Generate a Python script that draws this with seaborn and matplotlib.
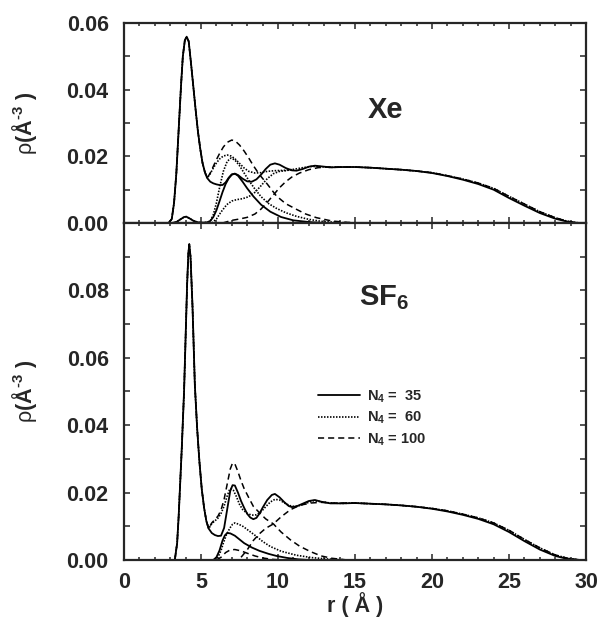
import matplotlib

matplotlib.use("Agg")
import matplotlib.pyplot as plt
import matplotlib.ticker as mticker
import numpy as np
import seaborn as sns
from matplotlib.lines import Line2D

# ---------------- Xe (top panel) ----------------
# first adsorbed layer, shared by all loadings
xe_peak_r = [2.9, 3.1, 3.25, 3.4, 3.55, 3.7, 3.82, 3.95, 4.07, 4.2, 4.35, 4.5,
             4.65, 4.8, 4.95, 5.1, 5.25, 5.4]
xe_peak_v = [0.0, 0.0012, 0.006, 0.015, 0.028, 0.041, 0.050, 0.0548, 0.0559,
             0.0545, 0.048, 0.041, 0.034, 0.0275, 0.0223, 0.018, 0.0153, 0.0135]

# total profiles beyond the first layer
xe_t35_r = [5.6, 5.8, 6.0, 6.2, 6.4, 6.6, 6.8, 7.0, 7.2, 7.4, 7.7, 8.0, 8.3, 8.6,
            8.9, 9.2, 9.5, 9.8, 10.1, 10.5, 10.9, 11.2, 11.6, 12.0, 12.4, 12.8,
            13.4, 14.2, 15.0, 16.0, 17.0, 18.0, 19.0, 20.0, 21.0, 22.0, 23.0,
            24.0, 25.0, 26.0, 27.0, 28.0, 28.8, 29.5]
xe_t35_v = [0.0124, 0.0119, 0.0116, 0.0114, 0.0114, 0.0122, 0.0136, 0.0146,
            0.0148, 0.0144, 0.0133, 0.0125, 0.0124, 0.0131, 0.0145, 0.0162,
            0.0175, 0.0179, 0.0175, 0.0165, 0.0158, 0.0157, 0.0162, 0.0169,
            0.0172, 0.0170, 0.0167, 0.0168, 0.0168, 0.0166, 0.0163, 0.0160,
            0.0156, 0.0150, 0.0141, 0.0130, 0.0117, 0.0100, 0.0075, 0.0052,
            0.0030, 0.0013, 0.0004, 0.0]

xe_t60_r = [5.6, 5.8, 6.0, 6.2, 6.45, 6.7, 6.95, 7.2, 7.5, 7.8, 8.1, 8.5, 8.9,
            9.3, 9.8, 10.4, 11.0, 11.6, 12.2, 12.8, 13.4, 14.2, 15.0, 16.0,
            17.0, 18.0, 19.0, 20.0, 21.0, 22.0, 23.0, 24.0, 25.0, 26.0, 27.0,
            28.0, 28.8, 29.6]
xe_t60_v = [0.0148, 0.0165, 0.0180, 0.0192, 0.0201, 0.0204, 0.0201, 0.0193,
            0.0179, 0.0165, 0.0155, 0.0150, 0.0151, 0.0155, 0.0157, 0.0158,
            0.0161, 0.0166, 0.0170, 0.0169, 0.0167, 0.0168, 0.0168, 0.0166,
            0.0163, 0.0160, 0.0156, 0.0151, 0.0142, 0.0132, 0.0120, 0.0104,
            0.0080, 0.0057, 0.0034, 0.0016, 0.0005, 0.0]

xe_t100_r = [5.6, 5.8, 6.0, 6.2, 6.45, 6.7, 7.0, 7.25, 7.5, 7.8, 8.1, 8.4, 8.8,
             9.3, 9.9, 10.5, 11.2, 11.8, 12.5, 13.5, 14.5, 15.5]
xe_t100_v = [0.0150, 0.0170, 0.0190, 0.0208, 0.0228, 0.0242, 0.0249, 0.0245,
             0.0234, 0.0216, 0.0195, 0.0172, 0.0145, 0.0117, 0.0081, 0.0058,
             0.0041, 0.0027, 0.0016, 0.0006, 0.0002, 0.0]

# layer components
xe_c35_r = [3.1, 3.4, 3.7, 3.9, 4.05, 4.25, 4.5, 4.8, 5.1, 5.4, 5.6, 5.8, 6.0,
            6.2, 6.4, 6.6, 6.8, 7.0, 7.2, 7.4, 7.7, 8.0, 8.4, 8.9, 9.5, 10.2,
            11.0, 12.0, 13.0]
xe_c35_v = [0.0, 0.0003, 0.0012, 0.0018, 0.0019, 0.0014, 0.0007, 0.0002,
            0.0001, 0.0002, 0.0006, 0.0018, 0.0038, 0.0065, 0.0093, 0.0117,
            0.0134, 0.0145, 0.0148, 0.0142, 0.0124, 0.0104, 0.0080, 0.0055,
            0.0034, 0.0018, 0.0008, 0.0003, 0.0]

xe_c60_r = [3.1, 3.4, 3.7, 3.9, 4.05, 4.25, 4.5, 4.8, 5.1, 5.4, 5.6, 5.8, 6.0,
            6.2, 6.45, 6.7, 6.95, 7.2, 7.5, 7.8, 8.1, 8.5, 8.9, 9.4, 9.9, 10.5,
            11.2, 12.0, 12.8, 13.8, 15.0]
xe_c60_v = [0.0, 0.0003, 0.0012, 0.0018, 0.0019, 0.0014, 0.0007, 0.0002,
            0.0001, 0.0002, 0.0006, 0.0025, 0.0060, 0.0105, 0.0155, 0.0185,
            0.0195, 0.0189, 0.0172, 0.0150, 0.0128, 0.0102, 0.0079, 0.0058,
            0.0044, 0.0031, 0.0020, 0.0011, 0.0005, 0.0002, 0.0]

xe_o60_r = [5.7, 6.0, 6.3, 6.67, 7.0, 7.3, 7.7, 8.1, 8.5, 8.9, 9.3, 9.7, 10.1,
            10.5, 11.0]
xe_o60_v = [0.0, 0.0012, 0.0033, 0.0055, 0.0066, 0.0070, 0.0073, 0.0079,
            0.0092, 0.0112, 0.0133, 0.0148, 0.0155, 0.0157, 0.0161]

xe_o100_r = [6.4, 7.0, 7.5, 8.0, 8.5, 8.9, 9.3, 9.7, 10.1, 10.5, 10.9, 11.4,
             12.0, 12.6, 13.2, 14.2]
xe_o100_v = [0.0, 0.0008, 0.0012, 0.0017, 0.0027, 0.0042, 0.0062, 0.0084,
             0.0106, 0.0124, 0.0138, 0.0150, 0.0160, 0.0166, 0.0168, 0.0168]

# ---------------- SF6 (bottom panel) ----------------
sf_peak_r = [3.3, 3.45, 3.55, 3.75, 3.9, 4.0, 4.1, 4.18, 4.24, 4.32, 4.45, 4.6,
             4.75, 4.9, 5.05, 5.2, 5.35, 5.5]
sf_peak_v = [0.0, 0.005, 0.013, 0.033, 0.050, 0.066, 0.082, 0.091, 0.0937,
             0.090, 0.075, 0.052, 0.039, 0.029, 0.021, 0.0155, 0.0115, 0.0093]

sf_t35_r = [5.7, 5.9, 6.1, 6.3, 6.5, 6.7, 6.9, 7.05, 7.2, 7.4, 7.6, 7.8, 8.0,
            8.2, 8.4, 8.6, 8.8, 9.0, 9.3, 9.6, 9.8, 10.1, 10.4, 10.7, 10.9,
            11.2, 11.6, 12.0, 12.4, 12.8, 13.4, 14.2, 15.0, 16.0, 17.0, 18.0,
            19.0, 20.0, 21.0, 22.0, 23.0, 24.0, 25.0, 26.0, 27.0, 28.0, 28.8,
            29.6]
sf_t35_v = [0.0080, 0.0074, 0.0071, 0.0072, 0.0095, 0.0150, 0.0205, 0.0222,
            0.0221, 0.0200, 0.0175, 0.0155, 0.0137, 0.0126, 0.0121, 0.0125,
            0.0138, 0.0155, 0.0178, 0.0193, 0.0196, 0.0186, 0.0172, 0.0160,
            0.0157, 0.0159, 0.0167, 0.0175, 0.0178, 0.0173, 0.0168, 0.0168,
            0.0169, 0.0167, 0.0165, 0.0162, 0.0158, 0.0152, 0.0144, 0.0134,
            0.0122, 0.0106, 0.0083, 0.0056, 0.0031, 0.0012, 0.0003, 0.0]

sf_t60_r = [5.7, 5.9, 6.1, 6.3, 6.5, 6.7, 6.85, 6.95, 7.1, 7.3, 7.5, 7.7, 8.0,
            8.3, 8.6, 8.9, 9.2, 9.5, 9.8, 10.1, 10.5, 10.9, 11.3, 11.8, 12.3,
            12.8, 13.4, 14.2, 15.0, 16.0, 17.0, 18.0, 19.0, 20.0, 21.0, 22.0,
            23.0, 24.0, 25.0, 26.0, 27.0, 28.0, 28.8, 29.6]
sf_t60_v = [0.0108, 0.0116, 0.0124, 0.0138, 0.0160, 0.0190, 0.0208, 0.0212,
            0.0207, 0.0188, 0.0165, 0.0150, 0.0138, 0.0133, 0.0134, 0.0143,
            0.0158, 0.0172, 0.0180, 0.0178, 0.0167, 0.0159, 0.0160, 0.0168,
            0.0176, 0.0173, 0.0169, 0.0168, 0.0169, 0.0167, 0.0165, 0.0162,
            0.0158, 0.0153, 0.0146, 0.0136, 0.0125, 0.0110, 0.0088, 0.0061,
            0.0036, 0.0015, 0.0005, 0.0]

sf_t100_r = [5.7, 5.9, 6.1, 6.3, 6.5, 6.7, 6.9, 7.05, 7.2, 7.4, 7.6, 7.8, 8.1,
             8.4, 8.8, 9.2, 9.7, 10.2, 10.8, 11.4, 12.1, 12.8, 13.5, 14.5]
sf_t100_v = [0.0110, 0.0120, 0.0130, 0.0148, 0.0180, 0.0225, 0.0270, 0.0288,
             0.0285, 0.0262, 0.0235, 0.0212, 0.0185, 0.0159, 0.0140, 0.0122,
             0.0107, 0.0083, 0.0060, 0.0041, 0.0025, 0.0012, 0.0005, 0.0]

sf_c35_r = [5.8, 6.0, 6.2, 6.4, 6.55, 6.7, 6.9, 7.2, 7.5, 7.8, 8.3, 8.8, 9.4,
            9.9, 10.6, 11.3, 12.0]
sf_c35_v = [0.0, 0.0008, 0.0028, 0.0058, 0.0073, 0.0080, 0.0079, 0.0072,
            0.0061, 0.0050, 0.0037, 0.0027, 0.0018, 0.0012, 0.0006, 0.0002, 0.0]

sf_c60_r = [5.9, 6.1, 6.3, 6.45, 6.65, 6.88, 7.05, 7.2, 7.45, 7.75, 8.1, 8.6,
            9.0, 9.5, 10.2, 11.2, 12.2, 13.2, 14.5]
sf_c60_v = [0.0, 0.0008, 0.0028, 0.0050, 0.0075, 0.0095, 0.0106, 0.0110,
            0.0106, 0.0099, 0.0087, 0.0070, 0.0055, 0.0040, 0.0026, 0.0014,
            0.0007, 0.0003, 0.0]

sf_c100_r = [6.0, 6.3, 6.6, 6.9, 7.2, 7.6, 8.0, 8.5, 9.0, 9.6, 10.2]
sf_c100_v = [0.0, 0.0008, 0.0022, 0.0030, 0.0031, 0.0027, 0.0020, 0.0012,
             0.0006, 0.0002, 0.0]

sf_o100_r = [7.6, 8.0, 8.4, 8.8, 9.2, 9.7, 10.2, 10.8, 11.4, 12.1, 12.8, 13.5]
sf_o100_v = [0.0008, 0.0030, 0.0058, 0.0078, 0.0094, 0.0107, 0.0128, 0.0149,
             0.0162, 0.0169, 0.0171, 0.0169]

legend_labels = ["N$_4$ =  35", "N$_4$ =  60", "N$_4$ = 100"]

SOLID = "-"
DOTTED = (0, (0.9, 0.9))
DASHED = (0, (4.0, 2.6))
STYLE_LW = {SOLID: 1.3, DOTTED: 1.2, DASHED: 1.1}


def draw(ax, r, v, ls):
    sns.lineplot(x=np.asarray(r), y=np.asarray(v), ax=ax, color="black",
                 linestyle=ls, linewidth=STYLE_LW[ls], sort=False,
                 estimator=None, legend=False)


def style_axes(ax, ymax, yticks):
    ax.set_xlim(0, 30)
    ax.set_ylim(0, ymax)
    ax.xaxis.set_major_locator(mticker.MultipleLocator(5))
    ax.xaxis.set_minor_locator(mticker.MultipleLocator(1))
    ax.yaxis.set_major_locator(mticker.FixedLocator(yticks))
    ax.yaxis.set_minor_locator(mticker.MultipleLocator(0.01))
    ax.yaxis.set_major_formatter(mticker.FormatStrFormatter("%.2f"))
    ax.tick_params(which="both", direction="in", top=True, right=True,
                   width=1.1)
    ax.tick_params(which="major", length=4.3)
    ax.tick_params(axis="x", which="minor", length=2.3)
    ax.tick_params(axis="y", which="minor", length=4.3)
    ax.tick_params(axis="y", pad=11)
    ax.tick_params(axis="x", pad=9)
    for spine in ax.spines.values():
        spine.set_linewidth(1.6)
    for lab in ax.get_xticklabels() + ax.get_yticklabels():
        lab.set_fontweight("bold")
        lab.set_fontsize(15.5)
    # U+2010 hyphen keeps the short dash of the original superscript
    ax.set_ylabel("$\\mathrm{\\rho}$(Å$^{\u2010 3}$ )", fontsize=15.5,
                  fontweight="bold")
    ax.yaxis.set_label_coords(-0.185, 0.5)


def main() -> None:
    sns.set_style("ticks")
    plt.rcParams["font.family"] = ["Liberation Sans", "DejaVu Sans"]
    plt.rcParams["mathtext.fontset"] = "custom"
    plt.rcParams["mathtext.rm"] = "Liberation Sans"
    plt.rcParams["mathtext.it"] = "Liberation Sans:italic"
    plt.rcParams["mathtext.bf"] = "Liberation Sans:bold"
    plt.rcParams["mathtext.default"] = "bf"

    fig = plt.figure(figsize=(5.97, 6.24), dpi=100)
    ax1 = fig.add_axes([0.2077, 0.6426, 0.7739, 0.3205])
    ax2 = fig.add_axes([0.2077, 0.1026, 0.7739, 0.5400])

    # Xe
    draw(ax1, xe_peak_r + xe_t35_r, xe_peak_v + xe_t35_v, SOLID)
    draw(ax1, xe_peak_r + xe_t60_r, xe_peak_v + xe_t60_v, DOTTED)
    draw(ax1, xe_peak_r + xe_t100_r, xe_peak_v + xe_t100_v, DASHED)
    draw(ax1, xe_c35_r, xe_c35_v, SOLID)
    draw(ax1, xe_c60_r, xe_c60_v, DOTTED)
    draw(ax1, xe_o60_r, xe_o60_v, DOTTED)
    draw(ax1, xe_o100_r + xe_t60_r[21:], xe_o100_v + xe_t60_v[21:], DASHED)

    # SF6
    draw(ax2, sf_peak_r + sf_t35_r, sf_peak_v + sf_t35_v, SOLID)
    draw(ax2, sf_peak_r + sf_t60_r, sf_peak_v + sf_t60_v, DOTTED)
    draw(ax2, sf_peak_r + sf_t100_r, sf_peak_v + sf_t100_v, DASHED)
    draw(ax2, sf_c35_r, sf_c35_v, SOLID)
    draw(ax2, sf_c60_r, sf_c60_v, DOTTED)
    draw(ax2, sf_c100_r, sf_c100_v, DASHED)
    draw(ax2, sf_o100_r + sf_t60_r[28:], sf_o100_v + sf_t60_v[28:], DASHED)

    style_axes(ax1, 0.06, [0.0, 0.02, 0.04, 0.06])
    style_axes(ax2, 0.10, [0.0, 0.02, 0.04, 0.06, 0.08])
    ax1.tick_params(axis="x", labelbottom=False)

    ax2.set_xlabel("r ( Å )", fontsize=15.5, fontweight="bold")
    ax2.xaxis.set_label_coords(0.5, -0.095)

    ax1.text(15.85, 0.0315, "Xe", fontsize=21, fontweight="bold",
             ha="left", va="baseline")
    ax2.text(15.25, 0.0755, "SF$_6$", fontsize=21, fontweight="bold",
             ha="left", va="baseline")

    handles = [
        Line2D([], [], color="black", linestyle=ls, linewidth=STYLE_LW[ls])
        for ls in (SOLID, DOTTED, DASHED)
    ]
    ax2.legend(handles, legend_labels, loc="upper left",
               bbox_to_anchor=(0.398, 0.54), frameon=False,
               prop={"weight": "bold", "size": 10.5}, handlelength=2.9,
               handletextpad=0.45, labelspacing=0.35, borderpad=0.2)

    fig.savefig("out.png", dpi=100)
    plt.close(fig)


if __name__ == "__main__":
    main()
